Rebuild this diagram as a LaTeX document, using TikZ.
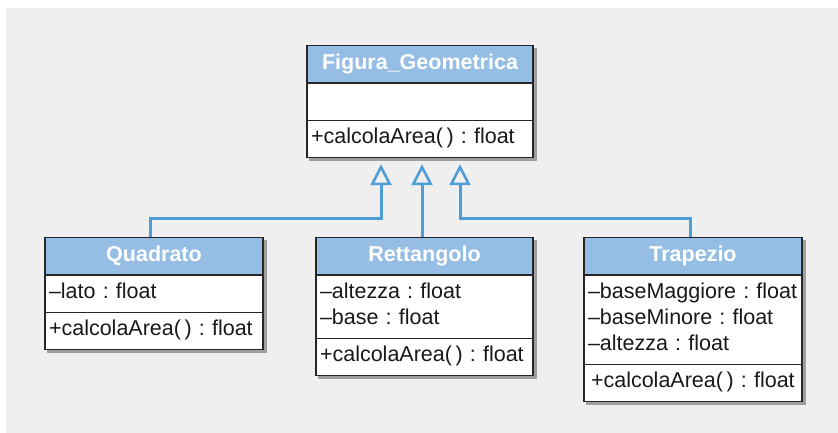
\documentclass[tikz,border=0pt]{standalone}
\usepackage{fontspec}
\setmainfont{Liberation Sans}
\usetikzlibrary{shapes.multipart,arrows.meta,backgrounds}
\definecolor{bgcol}{HTML}{EEEFEE}
\definecolor{hdr}{HTML}{96BDE3}
\definecolor{lnk}{HTML}{4F9DD6}
\newcommand{\ls}{\rule[-8pt]{0pt}{26pt}}
\newcommand{\hd}[1]{\centering\ls\color{white}\bfseries #1\par}
\frenchspacing

\begin{document}
\begin{tikzpicture}[x=1pt,y=1pt,>={Triangle[open,length=21pt,width=21pt,line width=2.6pt]},
  umlclass/.style={rectangle split,rectangle split parts=3,draw=black!85,line width=1.3pt,
    rectangle split part fill={hdr,white,white},
    text width=210pt,inner xsep=4pt,inner ysep=5pt,
    font=\fontsize{21.5}{26}\selectfont,text=black!90,anchor=north},
  inh/.style={->,draw=lnk,line width=3pt},
  shadowbox/.style={fill=black!45,opacity=.8}]
\useasboundingbox (0,0) rectangle (838,433);
\begin{scope}[on background layer]
\fill[bgcol] (6,0) rectangle (838,425);
\end{scope}

% superclass
\node[umlclass,text width=218pt](fig) at (420,388)
  {\hd{Figura\_Geometrica}
   \nodepart{two}\ls
   \nodepart{three}\ls+calcolaArea(\,) : float};

% subclasses
\node[umlclass](quad) at (154,196)
  {\hd{Quadrato}
   \nodepart{two}\ls--lato : float
   \nodepart{three}\ls+calcolaArea(\,) : float};
\node[umlclass,text width=209pt](rett) at (424.5,196)
  {\hd{Rettangolo}
   \nodepart{two}\ls--altezza : float\\\ls--base : float
   \nodepart{three}\ls+calcolaArea(\,) : float};
\node[umlclass](trap) at (693,196)
  {\hd{Trapezio}
   \nodepart{two}\ls--baseMaggiore : float\\\ls--baseMinore : float\\\ls--altezza : float
   \nodepart{three}\ls\hspace*{3pt}+calcolaArea(\,) : float};

% shadows
\begin{scope}[on background layer]
\foreach \c in {fig,quad,rett,trap}
  \fill[shadowbox] ([shift={(3pt,-3pt)}]\c.south west) rectangle ([shift={(3pt,-3pt)}]\c.north east);
\end{scope}

\coordinate (tl) at ([xshift=-39pt,yshift=-6pt]fig.south);
\coordinate (tm) at ([xshift=2pt,yshift=-6pt]fig.south);
\coordinate (tr) at ([xshift=40pt,yshift=-6pt]fig.south);

\draw[inh] ([xshift=-4pt]quad.north) |- ([yshift=-54pt]tl) -- (tl);
\draw[inh] (tm |- rett.north) -- (tm);
\draw[inh] ([xshift=-3pt]trap.north) |- ([yshift=-54pt]tr) -- (tr);
\end{tikzpicture}
\end{document}
